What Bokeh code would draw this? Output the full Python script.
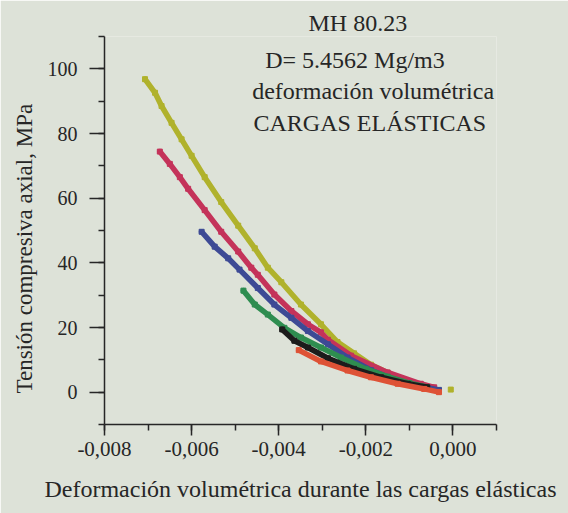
import math
from bokeh.plotting import figure
from bokeh.models import FixedTicker, CustomJSTickFormatter, Label, Range1d, Title
from bokeh.embed import file_html
from bokeh.resources import INLINE

# ---- data (x in 1e-3 strain, y in MPa) ----
yellow_x = [-7.07, -6.84, -6.69, -6.46, -6.23, -6.00, -5.70, -5.32, -4.93, -4.55, -4.25, -3.94,
            -3.49, -3.03, -2.65, -2.27, -1.88, -1.50, -1.12, -0.74, -0.51]
yellow_y = [96.8, 92.6, 88.5, 83.3, 78.2, 73.1, 66.5, 58.8, 51.5, 44.5, 38.5, 34.0,
            27.1, 21.0, 15.5, 12.0, 8.5, 6.0, 3.6, 2.0, 1.5]
yellow_extra_x = [-0.05]
yellow_extra_y = [0.8]

pink_x = [-6.73, -6.50, -6.27, -6.08, -5.70, -5.32, -4.93, -4.63, -4.48, -4.10, -3.71, -3.33,
          -3.03, -2.87, -2.34, -1.50, -0.74, -0.43]
pink_y = [74.4, 70.6, 66.5, 62.9, 56.3, 49.6, 43.5, 38.5, 36.3, 30.2, 25.1, 21.0,
          18.5, 16.2, 11.3, 6.1, 2.6, 1.5]

blue_x = [-5.77, -5.47, -5.16, -4.90, -4.48, -4.10, -3.71, -3.33, -2.87, -2.42, -1.88, -1.27, -0.74, -0.32]
blue_y = [49.6, 45.0, 41.4, 37.9, 32.2, 27.1, 23.0, 18.9, 14.8, 10.7, 6.8, 3.5, 1.8, 0.7]

green_x = [-4.81, -4.55, -4.25, -3.87, -3.49, -3.03, -2.57, -2.00, -1.50, -1.00, -0.60]
green_y = [31.4, 27.1, 24.0, 19.9, 16.9, 13.8, 10.7, 7.2, 4.8, 2.8, 1.6]

black_x = [-3.92, -3.64, -3.33, -2.87, -2.27, -1.65, -1.04, -0.59]
black_y = [19.4, 15.9, 13.8, 10.5, 7.2, 4.6, 2.6, 1.5]

red_x = [-3.54, -3.03, -2.42, -1.88, -1.27, -0.66, -0.32]
red_y = [13.0, 9.5, 6.7, 4.6, 2.6, 1.0, 0.0]

x_ticks = [-0.008, -0.006, -0.004, -0.002, 0.0]
x_tick_labels = ["-0,008", "-0,006", "-0,004", "-0,002", "0,000"]
x_minor = [-0.008, -0.007, -0.006, -0.005, -0.004, -0.003, -0.002, -0.001, 0.0, 0.001]
y_ticks = [0, 20, 40, 60, 80, 100]
y_minor = [-10, 0, 10, 20, 30, 40, 50, 60, 70, 80, 90, 100, 110]

title_lines = ["MH 80.23", "D= 5.4562 Mg/m3", "deformación volumétrica", "CARGAS ELÁSTICAS"]
x_label = "Deformación volumétrica durante las cargas elásticas"
y_label = "Tensión compresiva axial, MPa"

BG = "#dde2d8"
FONT = "'Liberation Serif', 'Times New Roman', serif"
TXT = "#262626"

p = figure(width=568, height=513, output_backend="svg", toolbar_location=None,
           x_range=Range1d(-0.008, 0.001), y_range=Range1d(-10, 110),
           min_border_left=104, min_border_right=72, min_border_top=36, min_border_bottom=89)
p.background_fill_color = BG
p.border_fill_color = BG
p.outline_line_color = None
p.grid.visible = False

series = [
    (yellow_x, yellow_y, "#b0b22c"),
    (pink_x, pink_y, "#c4335a"),
    (blue_x, blue_y, "#3d4a95"),
    (green_x, green_y, "#2e8d50"),
    (black_x, black_y, "#1c1c1c"),
    (red_x, red_y, "#de5236"),
]
for xs, ys, c in series:
    xx = [v * 1e-3 for v in xs]
    p.line(xx, ys, line_color=c, line_width=5.5, line_join="round", line_cap="round")
    p.scatter(xx, ys, marker="square", size=5, color=c)
p.scatter([v * 1e-3 for v in yellow_extra_x], yellow_extra_y, marker="square", size=5, color="#b0b22c")

for ax in (p.xaxis[0], p.yaxis[0]):
    ax.axis_line_color = TXT
    ax.axis_line_width = 1.5
    ax.major_tick_line_color = TXT
    ax.minor_tick_line_color = TXT
    ax.major_tick_line_width = 1.5
    ax.minor_tick_line_width = 1.5
    ax.major_tick_in = 0
    ax.minor_tick_in = 0
    ax.major_label_text_font = FONT
    ax.major_label_text_color = TXT

p.xaxis.ticker = FixedTicker(ticks=x_ticks, minor_ticks=x_minor)
p.xaxis.formatter = CustomJSTickFormatter(args=dict(labels=x_tick_labels),
                                          code="return labels[index];")
p.xaxis.major_tick_out = 11
p.xaxis.minor_tick_out = 6
p.xaxis.major_label_text_font_size = "21px"
p.xaxis.major_label_standoff = 6

p.yaxis.ticker = FixedTicker(ticks=y_ticks, minor_ticks=y_minor)
p.yaxis.major_tick_out = 15
p.yaxis.minor_tick_out = 6
p.yaxis.major_label_text_font_size = "20px"
p.yaxis.major_label_standoff = 12

p.xaxis.axis_label = x_label
p.xaxis.axis_label_text_font = FONT
p.xaxis.axis_label_text_font_style = "normal"
p.xaxis.axis_label_text_font_size = "24px"
p.xaxis.axis_label_text_color = TXT
p.xaxis.axis_label_standoff = 17

# y label as a side title so it can sit off-centre like the reference
p.add_layout(Title(text=y_label, align="left", offset=31, text_font=FONT,
                   text_font_size="23px", text_font_style="normal", text_color=TXT,
                   standoff=16), "left")

# first title line sits above the frame
p.title.text = title_lines[0]
p.title.align = "left"
p.title.offset = 204
p.title.text_font = FONT
p.title.text_font_size = "24px"
p.title.text_font_style = "normal"
p.title.text_color = TXT
p.title.standoff = 2

title_x = [-0.00431, -0.00461, -0.00458]
title_y = [102.8, 93.0, 83.3]
for t, tx, ty in zip(title_lines[1:], title_x, title_y):
    p.add_layout(Label(x=tx, y=ty, text=t, text_align="left", text_baseline="middle",
                       text_font=FONT, text_font_size="24px", text_color=TXT))

open("out.html", "w").write(file_html(p, INLINE))
